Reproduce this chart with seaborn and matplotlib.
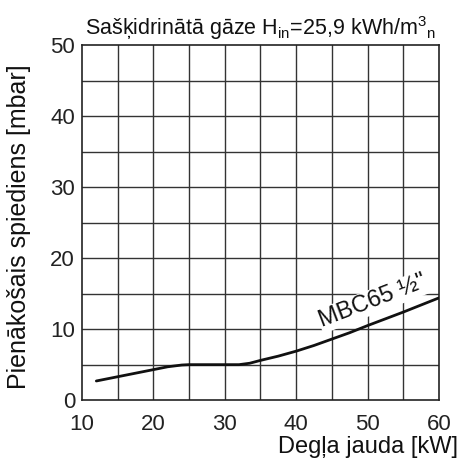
import pandas as pd
import matplotlib.pyplot as plt
import seaborn as sns
from matplotlib.ticker import MultipleLocator

jauda = [12, 15, 20, 22, 24, 25, 28, 32, 33.5, 35, 37.5, 40, 42.5, 45, 47.5, 50, 55, 60]
spiediens = [2.7, 3.3, 4.3, 4.7, 4.95, 5.0, 5.0, 5.0, 5.2, 5.6, 6.2, 6.9, 7.7, 8.6, 9.5, 10.5, 12.4, 14.4]
curve_label = 'MBC65 \u00bd"'

sns.set_style('white')
plt.rcParams['font.family'] = ['Liberation Sans', 'DejaVu Sans']
plt.rcParams['mathtext.fontset'] = 'custom'
plt.rcParams['mathtext.rm'] = 'Liberation Sans'
plt.rcParams['mathtext.it'] = 'Liberation Sans'

df = pd.DataFrame({'Jauda': jauda, 'Spiediens': spiediens})

fig = plt.figure(figsize=(4.61, 4.61), dpi=100)
ax = fig.add_axes([0.178, 0.132, 0.774, 0.770])

sns.lineplot(data=df, x='Jauda', y='Spiediens', ax=ax, color='#111111', lw=2, zorder=3)

ax.set_xlim(10, 60)
ax.set_ylim(0, 50)
ax.xaxis.set_major_locator(MultipleLocator(10))
ax.yaxis.set_major_locator(MultipleLocator(10))
ax.xaxis.set_minor_locator(MultipleLocator(1))
ax.yaxis.set_minor_locator(MultipleLocator(1))

# grid every 5 units
for v in range(15, 60, 5):
    ax.axvline(v, color='#333333', lw=1, zorder=1)
for v in range(5, 50, 5):
    ax.axhline(v, color='#333333', lw=1, zorder=1)

for s in ax.spines.values():
    s.set_color('#222222')
    s.set_linewidth(1.2)

ax.tick_params(which='major', direction='in', length=0, labelsize=16, colors='#222222')
ax.tick_params(axis='y', which='major', pad=5)
ax.tick_params(axis='x', which='major', pad=10)
ax.tick_params(which='minor', direction='in', length=3, width=0.8, color='#444444',
               top=False, right=False)

ax.set_title('Sašķidrinātā gāze H$_{\\mathrm{in}}$=25,9 kWh/m$^{\\mathrm{3}}$${}_{\\mathrm{n}}$',
             fontsize=15.5, color='#111111', pad=7)
ax.set_ylabel('Pienākošais spiediens [mbar]', fontsize=18, color='#111111')
ax.yaxis.set_label_coords(-0.143, 0.49)
ax.set_xlabel('Degļa jauda [kW]', fontsize=17, color='#111111', ha='right')
ax.xaxis.set_label_coords(1.053, -0.1)

ax.text(50.8, 13.9, curve_label, fontsize=17, rotation=21, ha='center', va='center',
        color='#111111', zorder=4,
        bbox=dict(facecolor='white', edgecolor='none', pad=1))

fig.savefig('out.png', dpi=100)
